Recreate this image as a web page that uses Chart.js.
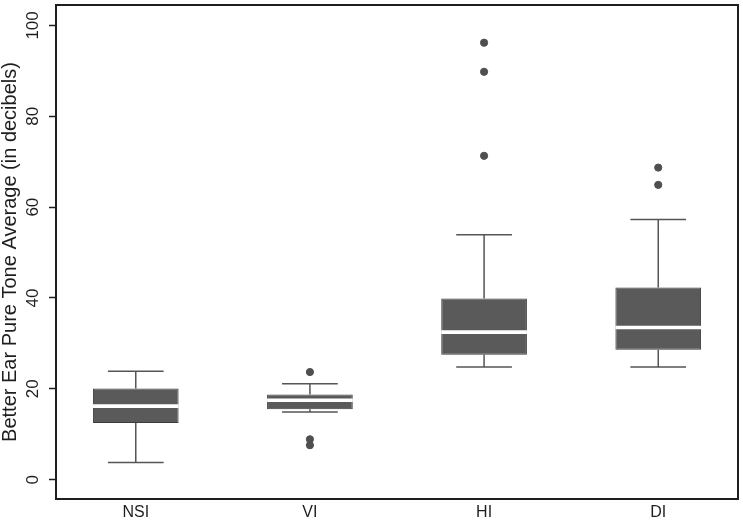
<!DOCTYPE html>
<html>
<head>
<meta charset="utf-8">
<script src="https://cdn.jsdelivr.net/npm/chart.js@4/dist/chart.umd.min.js"></script>
<style>
  body { margin: 0; background: #fff; }
  #wrap { width: 743px; height: 529px; }
</style>
</head>
<body>
<div id="wrap"><canvas id="box"></canvas></div>
<script>
const categories = ['NSI', 'VI', 'HI', 'DI'];
const whiskerLow = [3.8, 14.9, 24.8, 24.8];
const q1 = [12.5, 15.5, 27.5, 28.6];
const median = [16.2, 17.5, 32.5, 33.5];
const q3 = [20.1, 18.75, 39.9, 42.3];
const whiskerHigh = [23.9, 21.1, 53.9, 57.3];
const outliers = [[], [23.7, 8.9, 7.6], [96.2, 89.8, 71.3], [68.7, 64.9]];
const yTicks = [0, 20, 40, 60, 80, 100];

const boxColor = '#5a5a5a';
const inkColor = '#1e1e1e';
const fontFamily = '"Liberation Sans", Arial, sans-serif';
const capHalf = 0.16;
const medianHalf = 0.4;

function whiskerPoints() {
  let pts = [];
  categories.forEach((c, i) => {
    pts.push({x: i, y: whiskerLow[i]}, {x: i, y: q1[i]}, {x: i, y: null});
    pts.push({x: i, y: q3[i]}, {x: i, y: whiskerHigh[i]}, {x: i, y: null});
    pts.push({x: i - capHalf, y: whiskerLow[i]}, {x: i + capHalf, y: whiskerLow[i]}, {x: i, y: null});
    pts.push({x: i - capHalf, y: whiskerHigh[i]}, {x: i + capHalf, y: whiskerHigh[i]}, {x: i, y: null});
  });
  return pts;
}

function outlierPoints() {
  let pts = [];
  outliers.forEach((list, i) => {
    for (let v of list) pts.push({x: i, y: v});
  });
  return pts;
}

const framePlugin = {
  id: 'frame',
  afterDatasetsDraw(chart) {
    const {ctx, chartArea: a} = chart;
    ctx.save();
    ctx.strokeStyle = inkColor;
    ctx.lineWidth = 2;
    ctx.strokeRect(a.left, a.top, a.right - a.left, a.bottom - a.top);
    ctx.restore();
  }
};

new Chart('box', {
  type: 'bar',
  data: {
    datasets: [
      {
        type: 'line',
        data: whiskerPoints(),
        borderColor: '#555555',
        borderWidth: 1.5,
        pointRadius: 0,
        spanGaps: false,
        order: 3,
      },
      {
        data: categories.map((c, i) => ({x: i, y: [q1[i], q3[i]]})),
        backgroundColor: boxColor,
        borderColor: '#3c3c3c',
        borderWidth: 1,
        borderSkipped: false,
        grouped: false,
        categoryPercentage: 1,
        barPercentage: 0.492,
        order: 2,
      },
      {
        data: categories.map((c, i) => ({x: i, y: [median[i] - medianHalf, median[i] + medianHalf]})),
        backgroundColor: '#ffffff',
        borderWidth: 0,
        grouped: false,
        categoryPercentage: 1,
        barPercentage: 0.492,
        order: 1,
      },
      {
        type: 'scatter',
        data: outlierPoints(),
        backgroundColor: '#4f4f4f',
        borderColor: '#4f4f4f',
        pointRadius: 3.6,
        order: 0,
      },
    ],
  },
  options: {
    responsive: true,
    maintainAspectRatio: false,
    animation: false,
    layout: {padding: {top: 2, right: 2, left: 0, bottom: 0}},
    plugins: {
      legend: {display: false},
      tooltip: {enabled: false},
    },
    scales: {
      x: {
        type: 'linear',
        min: -0.458,
        max: 3.458,
        offset: false,
        afterBuildTicks: (scale) => { scale.ticks = categories.map((c, i) => ({value: i})); },
        afterFit: (scale) => {
          scale.height = 30;
          scale.paddingLeft = 0;
          scale.paddingRight = 0;
        },
        ticks: {
          callback: (v) => categories[v],
          color: inkColor,
          font: {size: 16, family: fontFamily},
          padding: 4,
          maxRotation: 0,
          autoSkip: false,
        },
        grid: {display: false, drawTicks: false, offset: false},
        border: {display: false},
      },
      y: {
        type: 'linear',
        min: -4.25,
        max: 104.5,
        afterBuildTicks: (scale) => { scale.ticks = yTicks.map(v => ({value: v})); },
        afterFit: (scale) => {
          scale.width = 56;
          scale.paddingTop = 0;
          scale.paddingBottom = 0;
        },
        ticks: {
          color: inkColor,
          font: {size: 17, family: fontFamily},
          minRotation: 90,
          maxRotation: 90,
          crossAlign: 'center',
          padding: 2,
        },
        grid: {
          drawOnChartArea: false,
          drawTicks: true,
          tickLength: 7,
          tickWidth: 1.5,
          tickColor: inkColor,
        },
        border: {display: false},
        title: {
          display: true,
          text: 'Better Ear Pure Tone Average (in decibels)',
          color: inkColor,
          font: {size: 20, family: fontFamily, lineHeight: 1},
          padding: {top: 0, bottom: 0},
        },
      },
    },
  },
  plugins: [framePlugin],
});
</script>
</body>
</html>
